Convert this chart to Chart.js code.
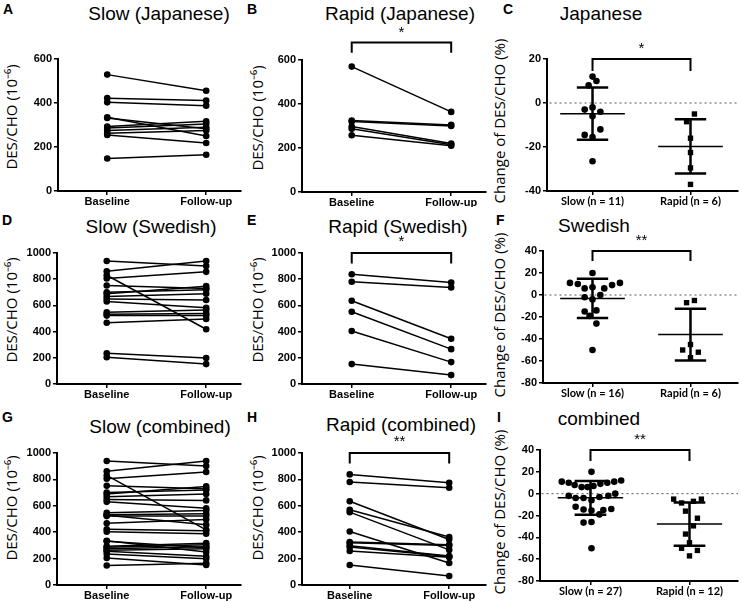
<!DOCTYPE html>
<html>
<head>
<meta charset="utf-8">
<script src="https://cdn.jsdelivr.net/npm/chart.js@4.4.1/dist/chart.umd.min.js"></script>
<style>
body { margin: 0; background: #fff; width: 742px; height: 602px; position: relative; overflow: hidden; font-family: "Liberation Sans", Arial, sans-serif; }
canvas { position: absolute; }
.letter { position: absolute; font-weight: bold; font-size: 14px; line-height: 14px; }
.ptitle { position: absolute; font-size: 19px; line-height: 19px; transform: translate(-50%, -50%); white-space: nowrap; }
.ytitle { position: absolute; font-family: "Open Sans", sans-serif; line-height: 18px; transform: translate(-50%, -50%) rotate(-90deg); white-space: nowrap; }
</style>
</head>
<body>
<script>
// DATA
const timeLabels = ['Baseline', 'Follow-up'];

// DES/CHO (10^-6), paired baseline -> follow-up
const slowJpBase   = [529, 422, 403, 335, 332, 293, 286, 275, 263, 255, 148];
const slowJpFollow = [456, 411, 388, 250, 283, 317, 305, 290, 275, 218, 165];
const rapidJpBase   = [570, 325, 320, 298, 287, 258];
const rapidJpFollow = [364, 305, 300, 220, 215, 210];
const slowSwBase   = [939, 861, 830, 805, 752, 700, 689, 668, 648, 630, 547, 532, 522, 468, 235, 205];
const slowSwFollow = [901, 939, 418, 856, 729, 720, 747, 689, 641, 582, 565, 539, 522, 496, 198, 152];
const rapidSwBase   = [838, 780, 635, 552, 405, 152];
const rapidSwFollow = [775, 737, 345, 266, 167, 68];

// change of DES/CHO (%) and horizontal scatter offsets (category units)
const chgSlowJp  = [12, 10, 8, -3, -2, -4, -6, -12, -14.5, -15.5, -26.5];
const chgSlowJpX = [0, 0.04, -0.04, -0.08, 0, 0.08, 0, 0.08, -0.08, 0, 0];
const chgRapidJp  = [-5, -8.5, -16, -22.5, -29.5, -37];
const chgRapidJpX = [0.04, -0.04, 0, 0, 0, 0];
const chgSlowSw  = [11, 10, 20, 6, 7, 6, 9, 11, -2, 0, -4, -15, -14, -19, -26, -50];
const chgSlowSwX = [-0.23, -0.15, 0, -0.08, 0, 0.12, 0.2, 0.28, -0.08, 0.08, 0, -0.08, 0.04, -0.03, 0.04, 0];
const chgRapidSw  = [-7, -5, -45, -50, -52, -57];
const chgRapidSwX = [-0.04, 0.04, 0, -0.08, 0.08, 0];
// offsets used in the combined panel (same order as Japanese + Swedish)
const chgSlowAllX = [0.31, 0.17, -0.16, 0.09, -0.22, -0.15, 0.01, -0.15, -0.07, 0.01, -0.07,
                     -0.29, -0.22, 0.01, -0.09, 0.03, -0.03, 0.10, 0.24, 0.18, 0.25, -0.07, 0.13, 0.21, 0.09, 0.01, 0.01];
const chgRapidAllX = [-0.16, -0.08, -0.04, 0.08, 0.04, -0.04, 0.04, 0.12, 0, -0.08, 0.08, 0];

const groupLabelsJp = ['Slow (n = 11)', 'Rapid (n = 6)'];
const groupLabelsSw = ['Slow (n = 16)', 'Rapid (n = 6)'];
const groupLabelsAll = ['Slow (n = 27)', 'Rapid (n = 12)'];

// significance: [bracket tip, bracket top, star position, text]
const sigB = [633, 680, 725, '*'];
const sigC = [14.5, 20, 24.5, '*'];
const sigE = [920, 1000, 1085, '*'];
const sigF = [31, 40, 49, '**'];
const sigH = [920, 1000, 1085, '**'];
const sigI = [30, 40, 49, '**'];

// LAYOUT (page pixels): canvas box, plot area, category centres
const layout = {
    A: { box: [0, 0, 245, 207],     area: [58, 59, 242, 191],   cats: [107.5, 207] },
    B: { box: [245, 0, 490, 207],   area: [302, 60, 487, 192],  cats: [352, 452] },
    C: { box: [490, 0, 742, 207],   area: [547, 59, 740, 191],  cats: [593, 692] },
    D: { box: [0, 207, 245, 405],   area: [57, 253, 242, 384],  cats: [107, 207] },
    E: { box: [245, 207, 490, 405], area: [302, 253, 487, 384], cats: [352, 452] },
    F: { box: [490, 207, 742, 405], area: [543, 251, 740, 383], cats: [593, 692] },
    G: { box: [0, 405, 245, 602],   area: [57, 453, 242, 585],  cats: [107, 207] },
    H: { box: [245, 405, 490, 602], area: [302, 453, 487, 585], cats: [350, 450] },
    I: { box: [490, 405, 742, 602], area: [540, 450, 740, 581], cats: [591, 691] }
};

// letter, letter x/y, title, title centre, y-axis title, its centre, size
const panelText = [
    ['A', 3, 2, 'Slow (Japanese)', 159, 13, 'DES/CHO (10⁻⁶)', 11, 117, 15],
    ['B', 247, 2, 'Rapid (Japanese)', 400, 13, 'DES/CHO (10⁻⁶)', 257, 118, 15],
    ['C', 503, 2, 'Japanese', 601, 13, 'Change of DES/CHO (%)', 499, 121, 15],
    ['D', 2, 213, 'Slow (Swedish)', 151, 226, 'DES/CHO (10⁻⁶)', 11, 310, 15],
    ['E', 247, 213, 'Rapid (Swedish)', 398, 226, 'DES/CHO (10⁻⁶)', 257, 310, 15],
    ['F', 496, 213, 'Swedish', 594, 225, 'Change of DES/CHO (%)', 499, 315, 15],
    ['G', 2, 410, 'Slow (combined)', 160, 426, 'DES/CHO (10⁻⁶)', 11, 508, 15],
    ['H', 247, 410, 'Rapid (combined)', 401, 424, 'DES/CHO (10⁻⁶)', 257, 508, 15],
    ['I', 497, 410, 'combined', 599, 418, 'Change of DES/CHO (%)', 499, 512, 15]
];

function addText(cls, text, x, y, size) {
    const d = document.createElement('div');
    d.className = cls;
    d.style.left = x + 'px';
    d.style.top = y + 'px';
    if (size) d.style.fontSize = size + 'px';
    d.innerText = text;
    document.body.appendChild(d);
}

panelText.forEach(([letter, lx, ly, title, tx, ty, yt, yx, yy, ys]) => {
    addText('letter', letter, lx, ly);
    addText('ptitle', title, tx, ty);
    addText('ytitle', yt, yx, yy, ys);
});

// HELPERS
const mean = a => a.reduce((s, v) => s + v, 0) / a.length;
const sd = a => {
    const m = mean(a);
    return Math.sqrt(a.reduce((s, v) => s + (v - m) * (v - m), 0) / (a.length - 1));
};

const starPlugin = {
    id: 'sigStar',
    afterDatasetsDraw(chart) {
        const sig = chart.options.plugins.sigStar;
        if (!sig || !sig.text) return;
        const ctx = chart.ctx;
        ctx.save();
        ctx.fillStyle = '#000';
        ctx.font = '15px "Liberation Sans", Arial, sans-serif';
        ctx.textAlign = 'center';
        ctx.textBaseline = 'middle';
        ctx.fillText(sig.text, chart.scales.x.getPixelForValue(1.5), chart.scales.y.getPixelForValue(sig.y));
        ctx.restore();
    }
};

function makeCanvas(key) {
    const [bl, bt, br, bb] = layout[key].box;
    const c = document.createElement('canvas');
    c.width = br - bl;
    c.height = bb - bt;
    c.style.left = bl + 'px';
    c.style.top = bt + 'px';
    c.style.width = (br - bl) + 'px';
    c.style.height = (bb - bt) + 'px';
    document.body.appendChild(c);
    return c.getContext('2d');
}

function lineSet(points, width, extra) {
    return Object.assign({
        data: points, showLine: true, pointRadius: 0, borderColor: '#000',
        backgroundColor: '#000', borderWidth: width, tension: 0
    }, extra || {});
}

function bracketSet(sig) {
    if (!sig) return [];
    return [lineSet([{ x: 1, y: sig[0] }, { x: 1, y: sig[1] }, { x: 2, y: sig[1] }, { x: 2, y: sig[0] }], 2, { clip: false })];
}

function buildOptions(key, yMin, yMax, xLabels, xFont, sig) {
    const L = layout[key];
    const [bl, bt, br, bb] = L.box;
    const [al, at, ar, ab] = L.area;
    const unit = L.cats[1] - L.cats[0];
    return {
        responsive: false,
        animation: false,
        events: [],
        layout: { padding: { left: 0, top: at - bt, right: br - ar, bottom: 0 } },
        plugins: {
            legend: { display: false },
            tooltip: { enabled: false },
            sigStar: sig ? { text: sig[3], y: sig[2] } : null
        },
        scales: {
            x: {
                type: 'linear',
                min: 1 - (L.cats[0] - al) / unit,
                max: 2 + (ar - L.cats[1]) / unit,
                afterFit: s => { s.height = bb - ab; },
                afterBuildTicks: s => { s.ticks = [{ value: 1 }, { value: 2 }]; },
                ticks: {
                    callback: v => xLabels[Math.round(v) - 1],
                    color: '#000', font: xFont, padding: 0,
                    maxRotation: 0, autoSkip: false
                },
                grid: { drawOnChartArea: false, drawTicks: true, tickLength: 4, color: '#000', lineWidth: 1.5 },
                border: { color: '#000', width: 2 }
            },
            y: {
                type: 'linear',
                min: yMin,
                max: yMax,
                afterFit: s => { s.width = al - bl; },
                ticks: {
                    stepSize: 20 * (yMax - yMin > 500 ? 10 : 1), color: '#000', padding: 2,
                    callback: v => String(v),
                    font: { family: '"Liberation Sans", Arial, sans-serif', size: 11, weight: 'bold' }
                },
                grid: { drawOnChartArea: false, drawTicks: true, tickLength: 4, color: '#000', lineWidth: 1.5 },
                border: { color: '#000', width: 2 }
            }
        }
    };
}

const timeFont = { family: '"Liberation Sans", Arial, sans-serif', size: 11, weight: 'bold' };
const groupFont = { family: 'Lato, sans-serif', size: 11, weight: 'bold' };

function pairedChart(key, base, follow, yMax, sig) {
    const datasets = base.map((b, i) => lineSet([{ x: 1, y: b }, { x: 2, y: follow[i] }], 1.5, { pointRadius: 3.3, pointBorderWidth: 0 }));
    new Chart(makeCanvas(key), {
        type: 'scatter',
        data: { datasets: bracketSet(sig).concat(datasets) },
        options: buildOptions(key, 0, yMax, timeLabels, timeFont, sig),
        plugins: [starPlugin]
    });
}

function summarySets(vals, c) {
    const m = mean(vals), s = sd(vals);
    return [
        lineSet([{ x: c - 0.33, y: m }, { x: c + 0.33, y: m }], 1.5),
        lineSet([{ x: c - 0.16, y: m + s }, { x: c + 0.16, y: m + s }], 2.5),
        lineSet([{ x: c - 0.16, y: m - s }, { x: c + 0.16, y: m - s }], 2.5),
        lineSet([{ x: c, y: m + s }, { x: c, y: m - s }], 2.5)
    ];
}

function changeChart(key, slow, slowX, rapid, rapidX, yMin, yMax, labels, sig) {
    const dots = (vals, offs, c, style, r) => ({
        data: vals.map((v, i) => ({ x: c + offs[i], y: v })),
        pointRadius: r, pointStyle: style, pointBackgroundColor: '#000',
        pointBorderWidth: 0, showLine: false
    });
    const zero = lineSet([{ x: 0, y: 0 }, { x: 3, y: 0 }], 1, { borderColor: '#555', borderDash: [2, 3] });
    new Chart(makeCanvas(key), {
        type: 'scatter',
        data: {
            datasets: bracketSet(sig)
                .concat(summarySets(slow, 1), summarySets(rapid, 2))
                .concat([dots(slow, slowX, 1, 'circle', 3.3), dots(rapid, rapidX, 2, 'rect', 3.8), zero])
        },
        options: buildOptions(key, yMin, yMax, labels, groupFont, sig),
        plugins: [starPlugin]
    });
}

// CHARTS
pairedChart('A', slowJpBase, slowJpFollow, 600, null);
pairedChart('B', rapidJpBase, rapidJpFollow, 600, sigB);
changeChart('C', chgSlowJp, chgSlowJpX, chgRapidJp, chgRapidJpX, -40, 20, groupLabelsJp, sigC);

pairedChart('D', slowSwBase, slowSwFollow, 1000, null);
pairedChart('E', rapidSwBase, rapidSwFollow, 1000, sigE);
changeChart('F', chgSlowSw, chgSlowSwX, chgRapidSw, chgRapidSwX, -80, 40, groupLabelsSw, sigF);

pairedChart('G', slowJpBase.concat(slowSwBase), slowJpFollow.concat(slowSwFollow), 1000, null);
pairedChart('H', rapidJpBase.concat(rapidSwBase), rapidJpFollow.concat(rapidSwFollow), 1000, sigH);
changeChart('I', chgSlowJp.concat(chgSlowSw), chgSlowAllX, chgRapidJp.concat(chgRapidSw), chgRapidAllX, -80, 40, groupLabelsAll, sigI);
</script>
</body>
</html>
